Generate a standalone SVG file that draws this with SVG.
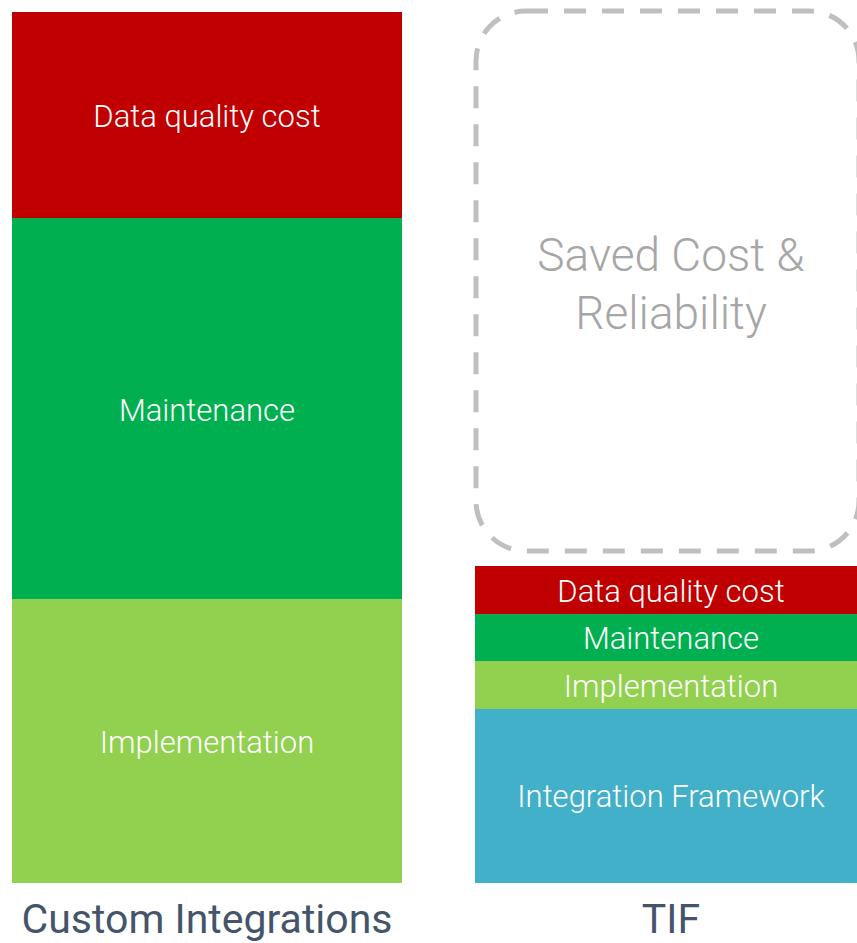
<svg xmlns="http://www.w3.org/2000/svg" width="857" height="943" viewBox="0 0 857 943">
<style>
.lbl{font-family:Roboto,"Liberation Sans",sans-serif;font-weight:300;fill:#ffffff;text-anchor:middle;font-size:31px}
.big{font-family:Roboto,"Liberation Sans",sans-serif;font-weight:300;fill:#A6A6A6;text-anchor:middle;font-size:46px}
.cap{font-family:Roboto,"Liberation Sans",sans-serif;font-weight:400;fill:#44546A;text-anchor:middle;font-size:41px}
</style>
<rect width="857" height="943" fill="#ffffff"/>
<g id="custom-integrations">
<g id="ci-data-quality"><rect x="12" y="12" width="390" height="206" fill="#C00000"/><text class="lbl" x="207" y="127">Data quality cost</text></g>
<g id="ci-maintenance"><rect x="12" y="218" width="390" height="381" fill="#00B050"/><text class="lbl" x="207" y="421">Maintenance</text></g>
<g id="ci-implementation"><rect x="12" y="599" width="390" height="284" fill="#92D050"/><text class="lbl" x="207" y="753">Implementation</text></g>
<text class="cap" x="207" y="933">Custom Integrations</text>
</g>
<g id="saved-cost">
<rect x="476" y="11" width="383" height="540" rx="50" ry="50" fill="none" stroke="#BFBFBF" stroke-width="5" stroke-dasharray="22 16"/>
<text class="big" x="671" y="271">Saved Cost &amp;</text>
<text class="big" x="671" y="329">Reliability</text>
</g>
<g id="tif">
<g id="tif-data-quality"><rect x="475" y="566" width="392" height="48" fill="#C00000"/><text class="lbl" x="671" y="602">Data quality cost</text></g>
<g id="tif-maintenance"><rect x="475" y="614" width="392" height="47" fill="#00B050"/><text class="lbl" x="671" y="649">Maintenance</text></g>
<g id="tif-implementation"><rect x="475" y="661" width="392" height="48" fill="#92D050"/><text class="lbl" x="671" y="697">Implementation</text></g>
<g id="tif-framework"><rect x="475" y="709" width="392" height="174" fill="#43B0C9"/><text class="lbl" x="671" y="807">Integration Framework</text></g>
<text class="cap" x="671" y="933">TIF</text>
</g>
<g id="connectors"/>
</svg>
